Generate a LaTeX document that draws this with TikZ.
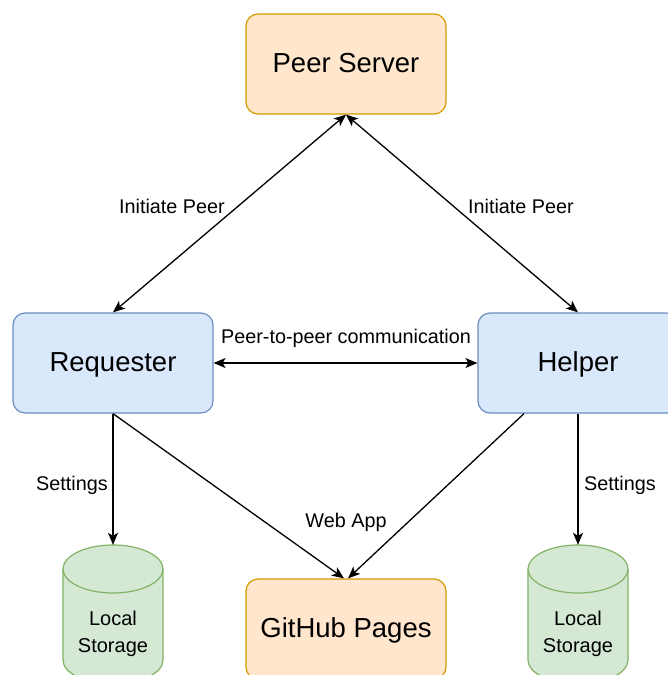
\documentclass[tikz,border=0pt]{standalone}
\usepackage{fontspec}
\setmainfont{Liberation Sans}
\usetikzlibrary{arrows.meta,calc}
\definecolor{orfill}{HTML}{FFE6CC}
\definecolor{ordraw}{HTML}{D79B00}
\definecolor{blfill}{HTML}{DAE8FC}
\definecolor{bldraw}{HTML}{6C8EBF}
\definecolor{grfill}{HTML}{D5E8D4}
\definecolor{grdraw}{HTML}{82B366}
\tikzset{
  box/.style={rounded corners=12pt, line width=1.2pt, minimum width=200pt, minimum height=100pt, font=\fontsize{27.5}{32}\selectfont, inner sep=0pt, text depth=2pt},
  orbox/.style={box, fill=orfill, draw=ordraw},
  blbox/.style={box, fill=blfill, draw=bldraw},
  conn/.style={line width=1.3pt, -{Stealth[length=12pt,width=10pt,inset=3pt]}},
  bconn/.style={line width=1.3pt, {Stealth[length=12pt,width=10pt,inset=3pt]}-{Stealth[length=12pt,width=10pt,inset=3pt]}},
  lbl/.style={font=\fontsize{19.8}{23}\selectfont, inner sep=1pt},
  cyltext/.style={font=\fontsize{20}{27}\selectfont, align=center, inner sep=0pt}
}
\begin{document}
\begin{tikzpicture}[x=1pt,y=1pt]
\clip (0,0) rectangle (668,-675);
\fill[white] (0,0) rectangle (668,-675);

\node[orbox] (ps) at (346,-64) {Peer Server};
\node[blbox] (req) at (113,-363) {Requester};
\node[blbox] (help) at (578,-363) {Helper};
\node[orbox] (gh) at (346,-629) {GitHub Pages};

% cylinders
\foreach \cx/\nm in {113/ls1, 578/ls2}{
  \node[minimum width=100pt, minimum height=139pt, inner sep=0pt] (\nm) at (\cx,-614.5) {};
  \draw[fill=grfill, draw=grdraw, line width=1.2pt]
    (\cx-50,-569) -- (\cx-50,-660) arc (180:360:50 and 24) -- (\cx+50,-569) arc (0:180:50 and 24) -- cycle;
  \draw[draw=grdraw, line width=1.2pt] (\cx-50,-569) arc (180:360:50 and 24);
}
\node[cyltext] (ls1t) at (113,-634) {Local\\Storage};
\node[cyltext] (ls2t) at (578,-634) {Local\\Storage};

% connectors
\draw[bconn] (ps.south) -- (req.north);
\draw[bconn] (ps.south) -- (help.north);
\draw[bconn] (req.east) -- (help.west);
\draw[conn] (req.south) -- (ls1.north);
\draw[conn] (help.south) -- (ls2.north);
\draw[conn] (req.south) -- ([xshift=-2pt]gh.north);
\draw[conn] ([xshift=-54pt]help.south) -- ([xshift=2pt]gh.north);

% labels
\node[lbl] (l1) at (172,-206) {Initiate Peer};
\node[lbl] (l2) at (521,-206) {Initiate Peer};
\node[lbl] (l3) at (346,-338) {Peer-to-peer communication};
\node[lbl] (l4) at (72,-485) {Settings};
\node[lbl] (l5) at (620,-485) {Settings};
\node[lbl] (l6) at (346,-522) {Web App};
\end{tikzpicture}
\end{document}
